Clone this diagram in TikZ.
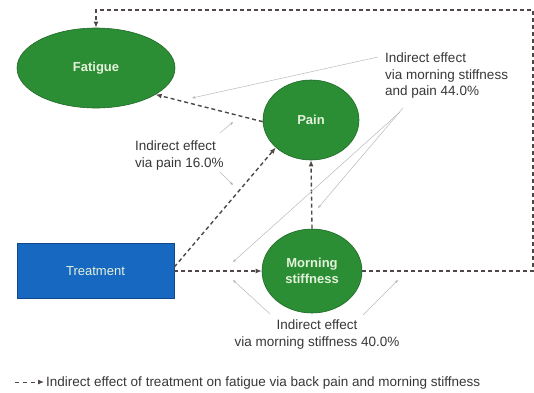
\documentclass[tikz,border=0pt]{standalone}
\usepackage{fontspec}
\setmainfont{Liberation Sans}
\usetikzlibrary{arrows.meta,shapes.geometric}
\definecolor{nodegreen}{RGB}{44,142,52}
\definecolor{greenedge}{RGB}{30,105,40}
\definecolor{boxblue}{RGB}{22,104,192}
\definecolor{blueedge}{RGB}{15,72,140}
\definecolor{nodetext}{RGB}{228,242,220}
\definecolor{arrowgrey}{RGB}{80,72,72}
\definecolor{labelgrey}{RGB}{55,55,55}
\definecolor{pointergrey}{RGB}{185,185,185}
\begin{document}
\begin{tikzpicture}[x=1pt,y=-1pt,
  ell/.style={ellipse, draw=greenedge, line width=0.6pt, fill=nodegreen, text=nodetext,
    font=\fontsize{13}{15.5}\selectfont\bfseries, inner sep=0pt, align=center},
  boxnode/.style={rectangle, draw=blueedge, line width=0.6pt, fill=boxblue, text=nodetext,
    font=\fontsize{13}{15.5}\selectfont, inner sep=0pt},
  effect/.style={arrowgrey, line width=1.4pt, dash pattern=on 4pt off 3pt,
    -{Latex[length=6pt,width=5pt]}},
  ptr/.style={pointergrey, line width=0.5pt, -{Stealth[length=3.5pt,width=3pt]}},
  lab/.style={text=labelgrey, font=\fontsize{13.5}{16.5}\selectfont, inner sep=0pt}]
\useasboundingbox (0,0) rectangle (534,392);

% nodes
\node[ell, minimum width=158pt, minimum height=80pt] (fatigue) at (96,68) {Fatigue};
\node[ell, minimum width=96pt, minimum height=80pt] (pain) at (311,120) {Pain};
\node[ell, minimum width=100pt, minimum height=84pt] (ms) at (312,271) {Morning\\stiffness};
\node[boxnode, minimum width=157pt, minimum height=55pt] (treat) at (95.5,271) {Treatment};

% effect arrows
\coordinate (ur) at (533,10);
\draw[effect] (treat.east) -- (ms.west);
\draw[effect] ([yshift=4pt]treat.east) -- (pain.218);
\draw[effect] (pain.182) -- (fatigue.336);
\draw[effect] (ms.north) -- (pain.south);
\draw[effect] (ms.east) -| (ur) -| (fatigue.north);

% labels
\node[lab, anchor=north west, align=left] (lab44) at (385,53)
  {Indirect effect\\via morning stiffness\\and pain 44.0\%};
\node[lab, anchor=north west, align=left] (lab16) at (135,141)
  {Indirect effect\\via pain 16.0\%};
\node[lab, anchor=north, align=center] (lab40) at (317,320)
  {Indirect effect\\via morning stiffness 40.0\%};

% pointer lines
\coordinate (a1) at (378,57);  \coordinate (b1) at (192,98);
\coordinate (a2) at (403,108); \coordinate (b2) at (318,208);
\coordinate (a3) at (400,112); \coordinate (b3) at (233,262);
\coordinate (a4) at (220,133); \coordinate (b4) at (233,122);
\coordinate (a5) at (220,172); \coordinate (b5) at (233,185);
\coordinate (a6) at (270,314); \coordinate (b6) at (233,280);
\coordinate (a7) at (363,315); \coordinate (b7) at (398,280);
\foreach \i in {1,...,7} {\draw[ptr] (a\i) -- (b\i);}

% legend
\coordinate (lg1) at (15,382);
\coordinate (lg2) at (44,382);
\draw[effect, line width=1pt, dash pattern=on 4pt off 4pt] (lg1) -- (lg2);
\node[lab, anchor=base west] (legend) at (46,386)
  {Indirect effect of treatment on fatigue via back pain and morning stiffness};
\end{tikzpicture}
\end{document}
